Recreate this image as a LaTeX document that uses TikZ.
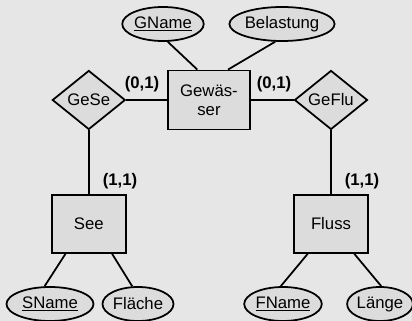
\documentclass[tikz,border=0pt]{standalone}
\usepackage{fontspec}
\setmainfont{Liberation Sans}
\usetikzlibrary{shapes.geometric}
\definecolor{bggray}{HTML}{E6E6E6}
\definecolor{boxgray}{HTML}{DCDCDC}

\begin{document}
\begin{tikzpicture}[line width=1.25pt,
  font=\fontsize{11.9pt}{13.7pt}\selectfont,
  entity/.style={draw, fill=boxgray, rectangle, inner sep=0pt, align=center,
                 minimum width=2.05cm, minimum height=1.475cm},
  relship/.style={draw, fill=boxgray, diamond, inner sep=0pt, shape aspect=1.24,
                  minimum width=1.825cm, minimum height=1.475cm},
  attrib/.style={draw, fill=boxgray, ellipse, inner sep=0pt, minimum height=0.85cm},
  card/.style={font=\fontsize{11.9pt}{13.7pt}\selectfont\bfseries}]

% Background
\useasboundingbox (0,0) rectangle (10.3,8.025);
\fill[bggray] (0,0) rectangle (10.3,8.025);

% Entities
\node[entity] (gewaesser) at (5.225,5.525) {Gewäs-\\ser};
\node[entity, minimum width=1.85cm, minimum height=1.45cm] (see) at (2.22,2.425) {See};
\node[entity, minimum width=1.85cm, minimum height=1.45cm] (fluss) at (8.275,2.425) {Fluss};

% Relationships
\node[relship] (gese) at (2.22,5.525) {GeSe};
\node[relship] (geflu) at (8.275,5.525) {GeFlu};

% Attributes
\node[attrib, minimum width=1.725cm] (gname) at (4.075,7.425) {\underline{GName}};
\node[attrib, minimum width=2.375cm] (belastung) at (7.05,7.425) {Belastung};
\node[attrib, minimum width=2.175cm] (sname) at (1.25,0.425) {\underline{SName}};
\node[attrib, minimum width=1.425cm] (flaeche) at (3.45,0.425) {Fläche};
\node[attrib, minimum width=1.675cm] (fname) at (7.075,0.425) {\underline{FName}};
\node[attrib, minimum width=1.375cm] (laenge) at (9.5,0.425) {Länge};

% Connectors
\draw (gname.-75) -- (gewaesser.111);
\draw (belastung.-111) -- (gewaesser.58);
\draw (gese.east) -- (gewaesser.west);
\draw (gewaesser.east) -- (geflu.west);
\draw (gese.south) -- (see.north);
\draw (geflu.south) -- (fluss.north);
\draw (see.232) -- (sname.107);
\draw (see.308) -- (flaeche.108);
\draw (fluss.232) -- (fname.97);
\draw (fluss.308) -- (laenge.86);

% Cardinalities
\node[card] (c1) at (3.55,5.925) {(0,1)};
\node[card] (c2) at (6.85,5.925) {(0,1)};
\node[card] (c3) at (3.0,3.5) {(1,1)};
\node[card] (c4) at (9.05,3.5) {(1,1)};

\end{tikzpicture}
\end{document}
